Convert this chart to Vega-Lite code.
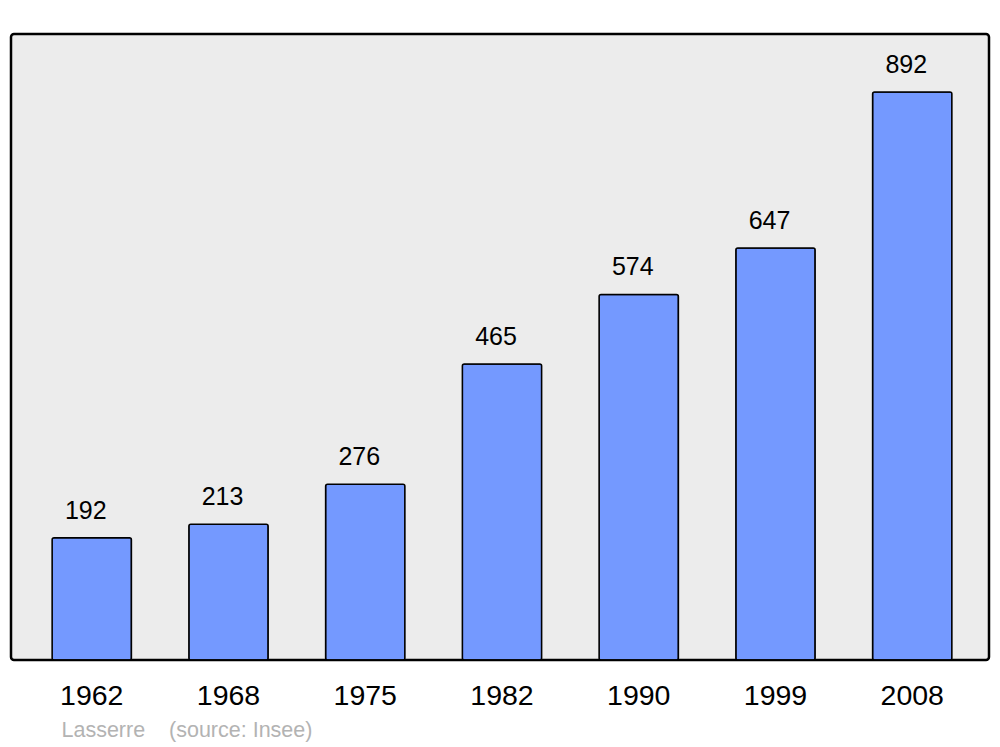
{
  "$schema": "https://vega.github.io/schema/vega-lite/v6.json",
  "width": 978,
  "height": 626,
  "autosize": "none",
  "padding": {"left": 11, "top": 34, "right": 11, "bottom": 87},
  "background": "white",
  "config": {
    "font": "Liberation Sans",
    "view": {"fill": "#ececec", "stroke": "#000000", "strokeWidth": 2.5, "cornerRadius": 3}
  },
  "data": {
    "values": [
      {"year": "1962", "pop": 192},
      {"year": "1968", "pop": 213},
      {"year": "1975", "pop": 276},
      {"year": "1982", "pop": 465},
      {"year": "1990", "pop": 574},
      {"year": "1999", "pop": 647},
      {"year": "2008", "pop": 892}
    ]
  },
  "encoding": {
    "x": {
      "field": "year",
      "type": "nominal",
      "sort": null,
      "scale": {"paddingInner": 0.42, "paddingOuter": 0.286, "range": [2, 980]},
      "axis": {
        "title": "Lasserre\u00a0\u00a0\u00a0\u00a0(source: Insee)",
        "titleX": 50,
        "titleY": 70,
        "titleAlign": "left",
        "titleBaseline": "middle",
        "titleFontSize": 21.5,
        "titleFontWeight": "normal",
        "titleColor": "#b3b3b3",
        "labelAngle": 0,
        "labelFontSize": 28.5,
        "labelColor": "#000000",
        "labelPadding": 21,
        "domain": false,
        "ticks": false
      }
    },
    "y": {
      "field": "pop",
      "type": "quantitative",
      "scale": {"domain": [0, 983], "nice": false, "zero": true},
      "axis": null
    }
  },
  "layer": [
    {
      "mark": {"type": "bar", "fill": "#7499ff", "stroke": "#000000", "strokeWidth": 1.5, "cornerRadius": 2}
    },
    {
      "mark": {"type": "text", "fontSize": 25, "color": "#000000", "baseline": "alphabetic", "dy": -19, "dx": -6},
      "encoding": {"text": {"field": "pop", "type": "quantitative"}}
    }
  ]
}
